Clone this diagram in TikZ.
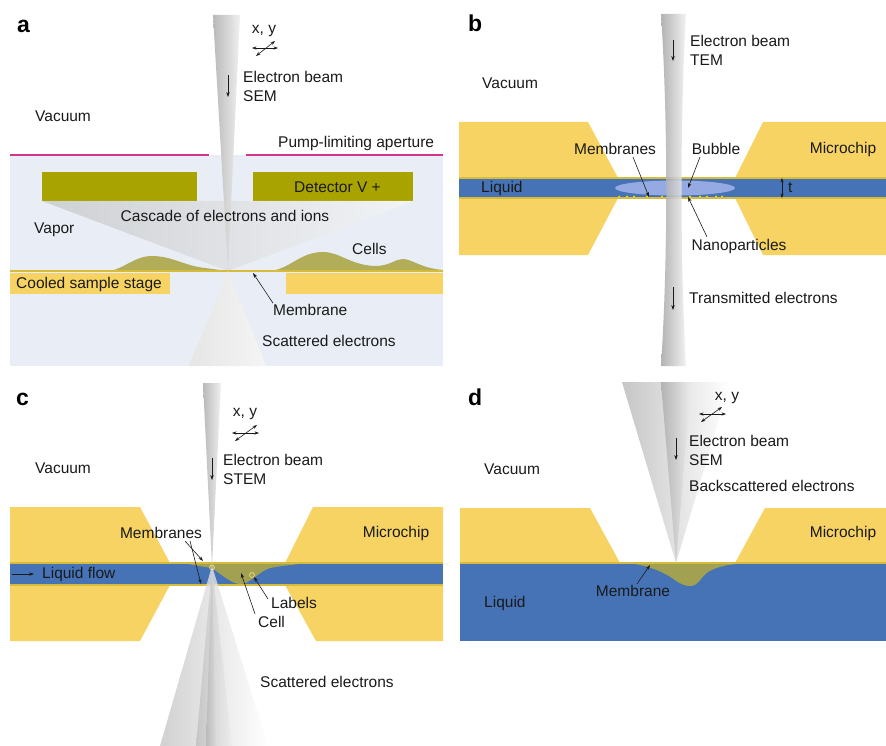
\documentclass[tikz,border=0pt]{standalone}
\usepackage{fontspec}
\setmainfont{Liberation Sans}
\usetikzlibrary{arrows.meta}
\definecolor{chip}{HTML}{F6D363}
\definecolor{liq}{HTML}{4573B6}
\definecolor{detc}{HTML}{A9A300}
\definecolor{cellc}{HTML}{ADA647}
\definecolor{vap}{HTML}{E9EEF6}
\definecolor{pinkc}{HTML}{D2358A}
\definecolor{memb}{HTML}{D6BC3A}
\definecolor{bubc}{HTML}{95AAE2}
\definecolor{txt}{HTML}{1A1A1A}
\begin{document}
\begin{tikzpicture}[x=1pt,y=-1pt,
  lbl/.style={font=\fontsize{15.5}{19}\selectfont, inner sep=0pt, text=txt, align=left},
  panel/.style={font=\fontsize{23}{24}\selectfont\bfseries, inner sep=0pt, anchor=base west},
  ptr/.style={-{Stealth[length=5pt,width=3.4pt]}, line width=0.6pt, draw=txt},
  dptr/.style={{Stealth[length=4.5pt,width=3.2pt]}-{Stealth[length=4.5pt,width=3.2pt]}, line width=0.6pt, draw=txt},
  membline/.style={draw=memb, line width=1.3pt},
  cellfill/.style={fill=cellc, fill opacity=0.9}]
\useasboundingbox (0,0) rectangle (886,746);
\fill[white] (0,0) rectangle (886,746);

% ================= panel a =================
\fill[vap] (10,155) rectangle (443,366);
\draw[pinkc, line width=2pt] (10,155) -- (209,155);
\draw[pinkc, line width=2pt] (246,155) -- (443,155);
% SEM probe
\shade[left color=gray!55, right color=gray!12] (213,15) -- (240,15) -- (228,271) -- cycle;
% detector plates
\fill[detc] (42,172) rectangle (197,201);
\fill[detc] (253,172) rectangle (413,201);
% cascade
\shade[left color=gray!55, right color=gray!5, opacity=0.55] (42,201) -- (413,201) -- (228,271) -- cycle;
% cells on the membrane
\path[cellfill] (110,271) .. controls (125,268) and (135,256) .. (152,256)
  .. controls (172,256) and (185,266) .. (205,268) -- (228,271) -- cycle;
\path[cellfill] (270,271) .. controls (290,269) and (300,252) .. (323,252)
  .. controls (340,252) and (350,265) .. (375,266)
  .. controls (390,266) and (395,259) .. (403,259)
  .. controls (412,259) and (420,268) .. (443,270) -- (443,271) -- cycle;
\draw[memb, line width=1.8pt] (10,271) -- (443,271);
% cooled stage
\fill[chip] (10,273) rectangle (170,294);
\fill[chip] (286,273) rectangle (443,294);
% scattered cone
\shade[left color=gray!20, middle color=gray!55, right color=gray!8] (228,271) -- (266,366) -- (189,366) -- cycle;
% labels
\node[panel] (la) at (17,33) {a};
\node[lbl] (xya) at (264,31) {x, y};
\coordinate (xa1) at (252,48); \coordinate (xa2) at (278,48);
\coordinate (ya1) at (256,56); \coordinate (ya2) at (275,41);
\draw[dptr] (xa1) -- (xa2);
\draw[dptr] (ya1) -- (ya2);
\coordinate (ba1) at (228,75); \coordinate (ba2) at (228,97);
\draw[ptr] (ba1) -- (ba2);
\node[lbl, anchor=west] (eba) at (243,86.5) {Electron beam\\SEM};
\node[lbl, anchor=west] (vaca) at (35,116) {Vacuum};
\node[lbl, anchor=west] (pla) at (278,143) {Pump-limiting aperture};
\node[lbl, anchor=west] (deta) at (294,187) {Detector V +};
\node[lbl] (casa) at (225,216) {Cascade of electrons and ions};
\node[lbl, anchor=west] (vapa) at (34,230) {Vapor};
\node[lbl, anchor=west] (cella) at (352,249) {Cells};
\node[lbl, anchor=west] (stga) at (16,284) {Cooled sample stage};
\node[lbl, anchor=west] (mema) at (273,310) {Membrane};
\coordinate (memat) at (253,273);
\draw[ptr] (mema.north west) ++(0,-1) -- (memat);
\node[lbl, anchor=west] (scaa) at (262,341) {Scattered electrons};

% ================= panel b =================
\fill[chip] (459,122) -- (588,122) -- (618,178) -- (618,198) -- (588,255) -- (459,255) -- cycle;
\fill[chip] (763,122) -- (886,122) -- (886,255) -- (763,255) -- (735,198) -- (735,178) -- cycle;
\fill[liq] (459,178) rectangle (886,198);
\draw[membline] (459,178) -- (886,178);
\draw[membline] (459,198) -- (886,198);
\fill[bubc] (675,188) ellipse [x radius=60, y radius=7.5];
\foreach \px in {619,627,634,647,662,690,700,707,716,722}
  \fill[yellow!80!orange] (\px,196.6) circle (1.1);
% TEM beam
\shade[left color=gray!70, right color=gray!12, opacity=0.85]
  (661,14) .. controls (668,120) and (668,260) .. (661,366) -- (686,366)
  .. controls (680,260) and (680,120) .. (686,14) -- cycle;
\node[panel] (lb) at (468,32) {b};
\coordinate (bb1) at (673,40); \coordinate (bb2) at (673,61);
\draw[ptr] (bb1) -- (bb2);
\node[lbl, anchor=west] (ebb) at (690,50.5) {Electron beam\\TEM};
\node[lbl, anchor=west] (vacb) at (482,83) {Vacuum};
\node[lbl] (memb) at (615,149) {Membranes};
\node[lbl] (bubb) at (716,149) {Bubble};
\node[lbl] (chipb) at (843,149) {Microchip};
\node[lbl, anchor=west] (liqb) at (481,188) {Liquid};
\coordinate (tb1) at (782,178); \coordinate (tb2) at (782,198);
\draw[dptr] (tb1) -- (tb2);
\node[lbl, anchor=west] (tb) at (788,188) {t};
\node[lbl] (nanob) at (739,246) {Nanoparticles};
\coordinate (membt) at (649,197);
\coordinate (bubbt) at (688,188);
\coordinate (nanobt) at (688,197);
\draw[ptr] (633,157) -- (membt);
\draw[ptr] (700,157) -- (bubbt);
\draw[ptr] (707,237) -- (nanobt);
\coordinate (tr1) at (673,287); \coordinate (tr2) at (673,310);
\draw[ptr] (tr1) -- (tr2);
\node[lbl, anchor=west] (trb) at (689,298) {Transmitted electrons};

% ================= panel c =================
\fill[chip] (10,507) -- (140,507) -- (170,563) -- (170,585) -- (140,641) -- (10,641) -- cycle;
\fill[chip] (313,507) -- (443,507) -- (443,641) -- (316,641) -- (285,585) -- (285,563) -- cycle;
\fill[liq] (10,563) rectangle (443,585);
% cell
\path[cellfill] (183,563) .. controls (198,566) and (205,567) .. (212,568)
  .. controls (222,575) and (232,584) .. (240,584)
  .. controls (250,584) and (258,572) .. (270,568)
  .. controls (285,565) and (295,565) .. (305,563) -- cycle;
\draw[membline] (10,563) -- (443,563);
\draw[membline] (10,585) -- (443,585);
\draw[chip!80!white, line width=0.7pt] (212,567.5) circle (2.4);
\draw[chip!80!white, line width=0.7pt] (252,575) circle (2.4);
% STEM probe and scattered cones
\shade[left color=gray!55, right color=gray!12] (203,383) -- (221,383) -- (212,566) -- cycle;
\shade[left color=gray!45, right color=white, opacity=0.8] (212,566) -- (268,746) -- (160,746) -- cycle;
\shade[left color=gray!50, right color=gray!15, opacity=0.8] (212,566) -- (232,746) -- (196,746) -- cycle;
\shade[left color=gray!60, right color=gray!30, opacity=0.7] (212,566) -- (216,746) -- (206,746) -- cycle;
\node[panel] (lc) at (16,405) {c};
\node[lbl] (xyc) at (245,414) {x, y};
\coordinate (xc1) at (232,433); \coordinate (xc2) at (259,433);
\coordinate (yc1) at (235,441); \coordinate (yc2) at (257,425);
\draw[dptr] (xc1) -- (xc2);
\draw[dptr] (yc1) -- (yc2);
\coordinate (bc1) at (212,458); \coordinate (bc2) at (212,480);
\draw[ptr] (bc1) -- (bc2);
\node[lbl, anchor=west] (ebc) at (223,469.5) {Electron beam\\STEM};
\node[lbl, anchor=west] (vacc) at (35,468) {Vacuum};
\node[lbl] (memc) at (161,533) {Membranes};
\node[lbl] (chipc) at (396,533) {Microchip};
\coordinate (mc1) at (203,561); \coordinate (mc2) at (201,584);
\draw[ptr] (185,541) -- (mc1);
\draw[ptr] (190,541) -- (mc2);
\coordinate (lf1) at (12,574); \coordinate (lf2) at (34,574);
\draw[ptr] (lf1) -- (lf2);
\node[lbl, anchor=west] (liqc) at (42,574) {Liquid flow};
\node[lbl, anchor=west] (labc) at (271,603) {Labels};
\node[lbl, anchor=west] (cellc) at (258,622) {Cell};
\coordinate (labt) at (254,577); \coordinate (cellt) at (241,573);
\draw[ptr] (268,599) -- (labt);
\draw[ptr] (255,614) -- (cellt);
\node[lbl, anchor=west] (scac) at (260,682) {Scattered electrons};

% ================= panel d =================
\fill[chip] (460,508) -- (590,508) -- (620,563) -- (460,563) -- cycle;
\fill[chip] (765,508) -- (886,508) -- (886,563) -- (735,563) -- cycle;
\fill[liq] (460,563) rectangle (886,641);
\path[cellfill] (628,563) .. controls (645,565) and (660,570) .. (672,578)
  .. controls (680,584) and (685,586) .. (690,586)
  .. controls (698,586) and (700,578) .. (708,572)
  .. controls (718,566) and (730,564) .. (748,563) -- cycle;
\draw[membline] (460,563) -- (886,563);
% SEM probe with backscattered cone
\shade[left color=gray!45, right color=white] (622,382) -- (730,382) -- (676,563) -- cycle;
\shade[left color=gray!60, right color=gray!15] (661,382) -- (691,382) -- (676,563) -- cycle;
\node[panel] (ld) at (468,405) {d};
\node[lbl] (xyd) at (727,398) {x, y};
\coordinate (xd1) at (699,414); \coordinate (xd2) at (726,414);
\coordinate (yd1) at (701,422); \coordinate (yd2) at (722,407);
\draw[dptr] (xd1) -- (xd2);
\draw[dptr] (yd1) -- (yd2);
\coordinate (bd1) at (676,438); \coordinate (bd2) at (676,460);
\draw[ptr] (bd1) -- (bd2);
\node[lbl, anchor=west] (ebd) at (689,450) {Electron beam\\SEM};
\node[lbl, anchor=west] (bsd) at (689,486) {Backscattered electrons};
\node[lbl, anchor=west] (vacd) at (484,469) {Vacuum};
\node[lbl] (chipd) at (843,533) {Microchip};
\node[lbl] (memd) at (633,591) {Membrane};
\coordinate (memdt) at (650,565);
\draw[ptr] (637,584) -- (memdt);
\node[lbl, anchor=west] (liqd) at (484,603) {Liquid};
\end{tikzpicture}
\end{document}
